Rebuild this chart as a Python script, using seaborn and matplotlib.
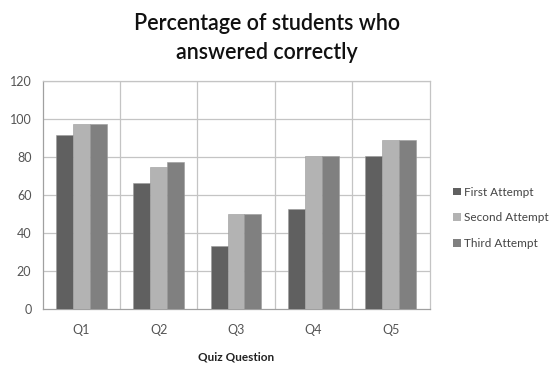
import matplotlib
matplotlib.use("Agg")
import matplotlib.pyplot as plt
import seaborn as sns
import pandas as pd
from matplotlib.patches import Patch

questions = ["Q1", "Q2", "Q3", "Q4", "Q5"]
first_attempt = [91.5, 66.5, 33.3, 52.5, 80.5]
second_attempt = [97.5, 75.0, 50.0, 80.5, 89.0]
third_attempt = [97.5, 77.5, 50.0, 80.5, 89.0]
series_names = ["First Attempt", "Second Attempt", "Third Attempt"]
colors = ["#606060", "#b3b3b3", "#808080"]

df = pd.DataFrame({
    "Question": questions * 3,
    "Percent": first_attempt + second_attempt + third_attempt,
    "Attempt": [s for s in series_names for _ in questions],
})

sns.set_style("white")
plt.rcParams["font.family"] = ["Lato", "DejaVu Sans"]

fig = plt.figure(figsize=(5.53, 3.68), dpi=100)
ax = fig.add_axes([42.5 / 553, (368 - 309) / 368, 387 / 553, 228 / 368])

sns.barplot(data=df, x="Question", y="Percent", hue="Attempt",
            palette=colors, width=0.655, gap=0, ax=ax,
            edgecolor="#9a9a9a", linewidth=0.4, legend=False, zorder=3)

ax.set_ylim(0, 120)
ax.set_xlim(-0.5, 4.5)
ax.set_yticks(range(0, 121, 20))
for y in range(20, 121, 20):
    ax.axhline(y, color="#c4c4c4", lw=0.9, zorder=1)
for x in [0.5, 1.5, 2.5, 3.5]:
    ax.axvline(x, color="#c4c4c4", lw=0.9, zorder=1)
for s in ax.spines.values():
    s.set_color("#c4c4c4")
    s.set_linewidth(0.9)
ax.spines["left"].set_color("#a0a0a0")
ax.spines["bottom"].set_color("#a0a0a0")

ax.tick_params(axis="both", length=0, labelsize=9, labelcolor="#555555")
ax.tick_params(axis="x", pad=11)
ax.tick_params(axis="y", pad=8)
ax.set_ylabel("")
ax.set_xlabel("Quiz Question", fontsize=8.5, fontweight="bold", color="#222222", labelpad=11)

fig.text(0.482, 0.965, "Percentage of students who\nanswered correctly",
         ha="center", va="top", fontsize=15.5, fontweight="semibold",
         color="#111111", linespacing=1.45)

handles = [Patch(facecolor=c, edgecolor="none") for c in colors]
fig.legend(handles, series_names, loc="center left", bbox_to_anchor=(0.8, 0.408),
           frameon=False, fontsize=8.5, labelcolor="#444444", handlelength=0.65,
           handleheight=0.65, handletextpad=0.3, labelspacing=1.25)

fig.savefig("out.png", dpi=100)
